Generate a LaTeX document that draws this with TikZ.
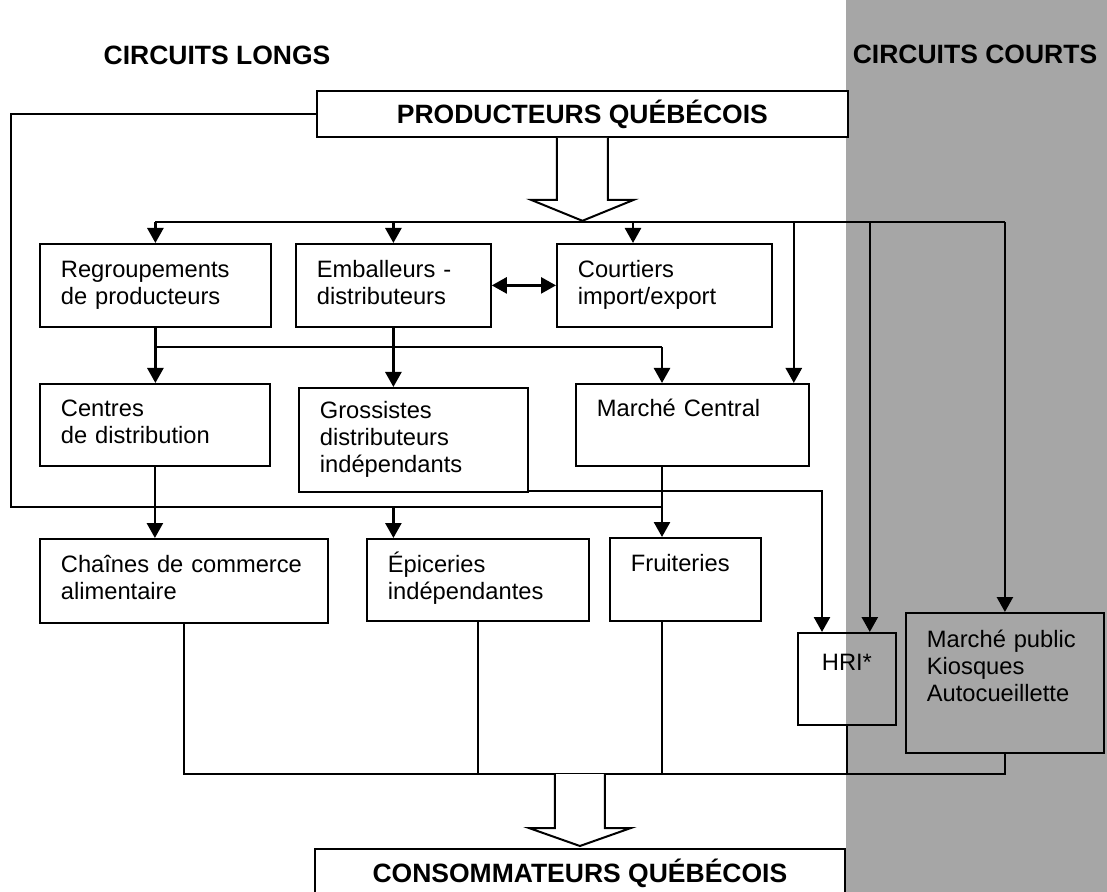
\documentclass[tikz,border=0pt]{standalone}
\usepackage{fontspec}
\setmainfont{Liberation Sans}
\usetikzlibrary{arrows.meta,calc,positioning}
\definecolor{courts}{RGB}{166,166,166}
\newcommand\corps{\fontsize{11.85}{13.6}\selectfont}
\newcommand\titres{\fontsize{13.25}{15}\selectfont\bfseries}
\tikzset{
	boite/.style={draw, line width=0.9pt, anchor=north west, align=left,
		inner xsep=10.5pt, inner ysep=0pt, font=\corps,
		execute at begin node=\strut, execute at end node=\strut},
	grandeboite/.style={draw, line width=0.9pt, fill=white, anchor=north west,
		inner sep=0pt, font=\titres},
	titre/.style={font=\titres, inner sep=0pt},
	fleche/.style={line width=1.3pt, -{Triangle[width=8pt,length=7.5pt]}},
	doublefleche/.style={line width=1.3pt, {Triangle[width=8pt,length=7.5pt]}-{Triangle[width=8pt,length=7.5pt]}},
	trait/.style={line width=1.3pt},
	mince/.style={line width=0.8pt},
	creux/.style={line width=1pt, fill=white},
}
\begin{document}
\begin{tikzpicture}[x=0.5pt,y=-0.5pt]
	\useasboundingbox (0,0) rectangle (1107,892);
	% bande des circuits courts
	\fill[courts] (846,0) rectangle (1107,892);
	\node[titre] (longs) at (217,55) {CIRCUITS LONGS};
	\node[titre] (courtscirc) at (975,54) {CIRCUITS COURTS};

	\node[grandeboite, minimum width=265.5pt, minimum height=23pt] (prod) at (316,90) {PRODUCTEURS QUÉBÉCOIS};

	% premier niveau
	\node[boite, text width=94.5pt, minimum height=41.5pt] (regroup) at (39,243) {Regroupements\\de producteurs};
	\node[boite, text width=76.5pt, minimum height=41.5pt] (emball) at (295,243) {Emballeurs -\\distributeurs};
	\node[boite, text width=86.5pt, minimum height=41.5pt] (courtiers) at (556,243) {Courtiers\\import/export};
	% second niveau
	\node[boite, text width=94pt, minimum height=41pt] (centres) at (39,383) {Centres\\de distribution};
	\node[boite, text width=93.5pt, minimum height=52pt] (gross) at (298,387) {Grossistes\\distributeurs\\indépendants};
	\node[boite, text width=95.5pt, minimum height=41pt] (marche) at (575,383) {Marché Central\\~};
	% detaillants
	\node[boite, text width=123pt, minimum height=42pt] (chaines) at (39,538) {Chaînes de commerce\\alimentaire};
	\node[boite, text width=90pt, minimum height=41pt] (epic) at (366,538) {Épiceries\\indépendantes};
	\node[boite, text width=54.5pt, minimum height=41.5pt] (fruit) at (609,537) {Fruiteries\\~};
	\node[boite, align=center, inner xsep=4.5pt, text width=40pt, minimum height=46pt] (hri) at (797,632) {HRI*\\~};
	\node[boite, text width=78pt, minimum height=70pt] (public) at (905,612) {Marché public\\Kiosques\\Autocueillette\\~};

	\node[grandeboite, minimum width=265pt, minimum height=24pt] (conso) at (314,848) {CONSOMMATEURS QUÉBÉCOIS};

	% grosse fleche du haut
	\draw[creux] ($(prod.south)+(-25.5,0)$) -- ++(0,62) -- ++(-26,0) -- ++(51.5,21)
		-- ++(51.5,-21) -- ++(-26,0) -- ++(0,-62);
	\coordinate (d) at (582,222);
	\draw[trait] (regroup.north |- d) -- (public.north |- d);
	\coordinate (c1) at ($(courtiers.north west)+(77,0)$);
	\coordinate (m1) at ($(marche.north east)+(-16,0)$);
	\coordinate (h2) at ($(hri.north east)+(-27,0)$);
	\draw[fleche] (regroup.north |- d) -- (regroup.north);
	\draw[fleche] (emball.north |- d) -- (emball.north);
	\draw[fleche] (c1 |- d) -- (c1);
	\draw[fleche] (m1 |- d) -- (m1);
	\draw[fleche] (h2 |- d) -- (h2);
	\draw[fleche] (public.north |- d) -- (public.north);
	\draw[doublefleche] (emball.east) -- (courtiers.west);

	% vers le second niveau
	\coordinate (k2) at (662,347);
	\draw[fleche] (regroup.south) -- (regroup.south |- centres.north);
	\draw[fleche] (emball.south) -- (emball.south |- gross.north);
	\draw[trait] (regroup.south |- k2) -- (k2);
	\draw[fleche] (k2) -- (k2 |- marche.north);

	% boucle directe des producteurs
	\coordinate (b1) at (11,507);
	\draw[trait] (prod.west) -| (b1) -- (k2 |- b1);
	\draw[fleche] (centres.south) -- (centres.south |- chaines.north);
	\draw[fleche] (emball.south |- b1) -- (emball.south |- epic.north);
	\draw[fleche] (k2 |- marche.south) -- (k2 |- fruit.north);
	\coordinate (h1) at ($(hri.north west)+(25,0)$);
	\draw[fleche] ($(gross.south east)+(0,-2)$) -| (h1);

	% vers les consommateurs
	\coordinate (col) at (0,774);
	\draw[mince] (chaines.south) -- (chaines.south |- col) -- (public.south |- col) -- (public.south);
	\draw[mince] (epic.south) -- (epic.south |- col);
	\draw[mince] (k2 |- fruit.south) -- (k2 |- col);
	\draw[mince] (hri.south) -- (hri.south |- col);
	\draw[creux] ($(conso.north)+(-25,-74)$) -- ++(0,54) -- ++(-26,0) -- ++(51,18)
		-- ++(51,-18) -- ++(-26,0) -- ++(0,-54);
\end{tikzpicture}
\end{document}
